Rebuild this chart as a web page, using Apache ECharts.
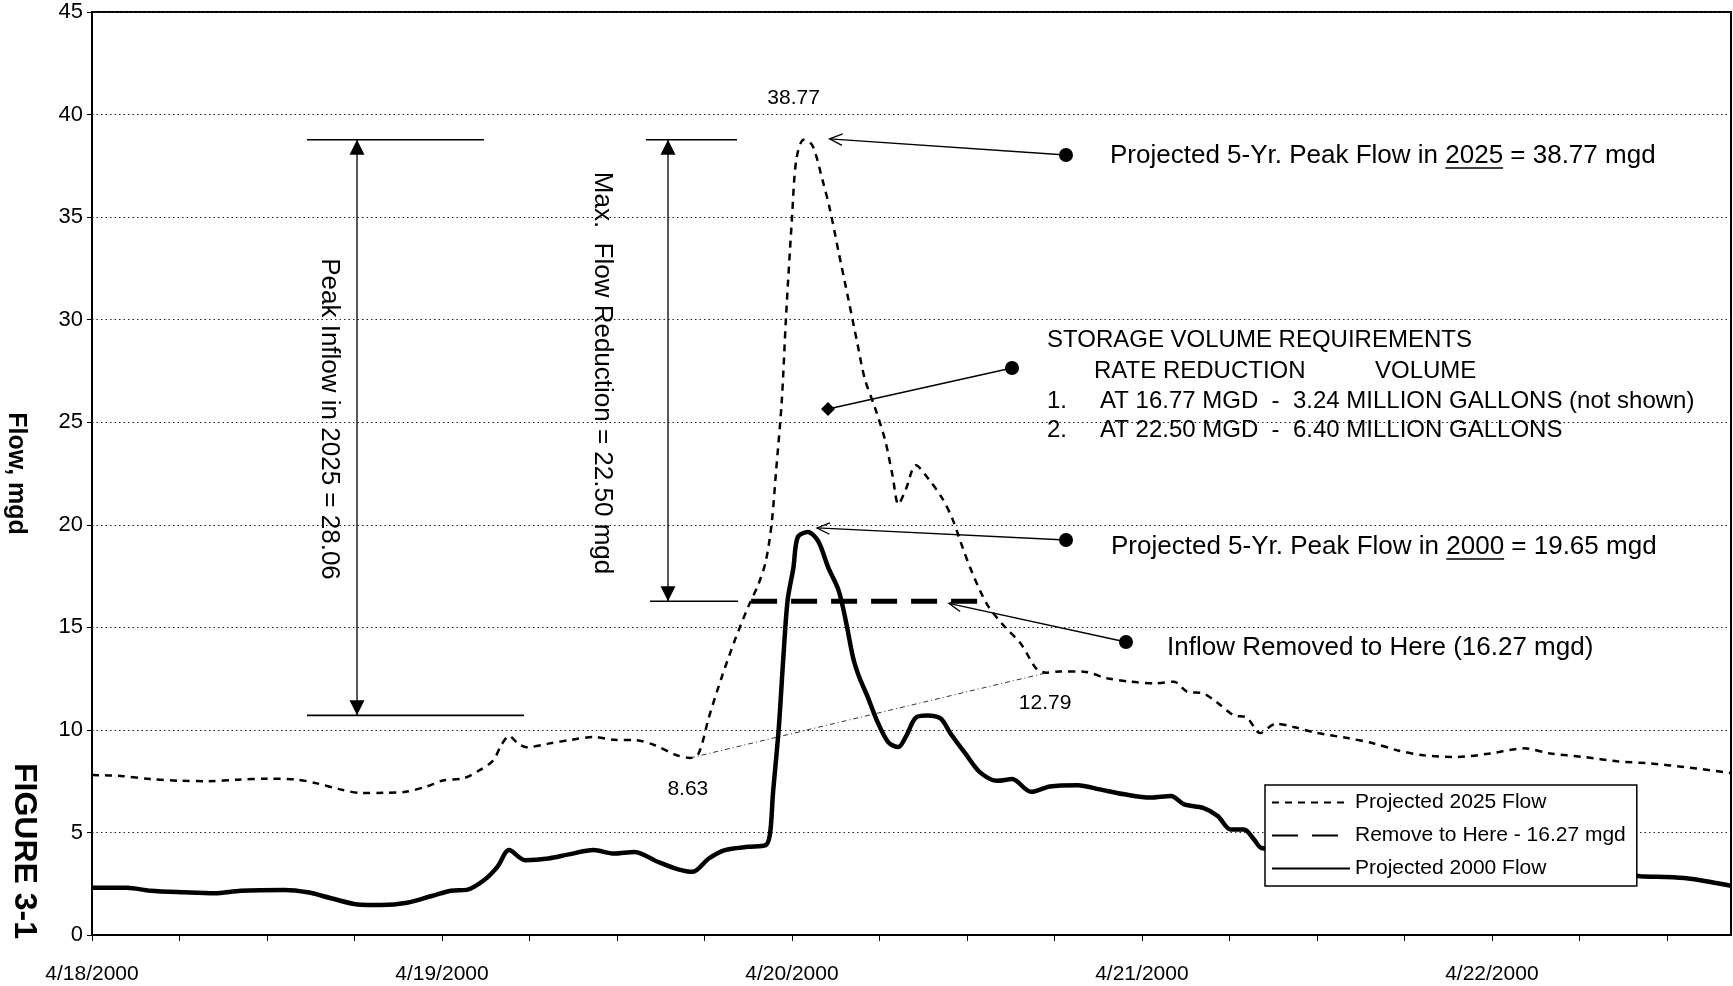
<!DOCTYPE html>
<html>
<head>
<meta charset="utf-8">
<title>Figure 3-1 Flow Hydrographs</title>
<script src="https://cdn.jsdelivr.net/npm/echarts@6/dist/echarts.min.js"></script>
<style>
  html, body { margin: 0; padding: 0; background: #fff; }
  #chart { width: 1733px; height: 986px; }
</style>
</head>
<body>
<div id="chart"></div>
<script>
// ---- Data: hours counted from 4/18/2000 00:00, flows in mgd ----
const hours2025 = [0,2,4,6,8,10,12,14,15.5,17,18.5,20,21.5,23,24,25.5,26.5,27.5,28.1,28.6,29.2,29.8,31.3,32.9,34.4,35.8,37.3,38.6,40,41,41.6,42.3,43.2,44.1,45,45.7,46.2,46.6,46.9,47.3,47.6,48,48.3,48.8,49.4,50.1,50.6,51.2,51.9,52.5,53,53.7,54.4,54.9,55.3,55.8,56.5,57.4,58.3,59,59.7,60.4,61.4,62.5,63.7,64.8,65.5,66.4,68,69.6,71.2,73,74.2,75.1,76.2,77.1,78.3,79.2,80.1,81.2,82.4,84,86.1,87.9,89.5,91.3,93.6,95.9,98.2,100,102.3,104.6,106.9,109.2,112.4];
const flow2025 = [7.8,7.75,7.6,7.52,7.5,7.57,7.62,7.58,7.38,7.1,6.92,6.93,6.98,7.25,7.52,7.65,8.0,8.5,9.3,9.7,9.35,9.15,9.33,9.52,9.65,9.52,9.5,9.25,8.79,8.63,8.85,10.6,12.6,14.4,16.0,17.1,18.2,20.0,22.5,26.0,30.2,34.9,37.8,38.77,38.5,36.8,35.4,33.3,30.9,28.8,27.1,25.7,24.1,22.4,21.0,21.7,22.9,22.2,21.3,20.3,18.9,17.6,16.1,15.1,14.2,12.95,12.79,12.85,12.84,12.52,12.35,12.27,12.35,11.86,11.78,11.37,10.71,10.6,9.85,10.3,10.14,9.85,9.6,9.34,9.01,8.76,8.68,8.85,9.1,8.85,8.68,8.47,8.36,8.19,7.9];

const hours2000 = [0,2.4,4,6.3,8.4,10.2,13.2,14.8,16.4,18.2,19.8,21.6,23.3,24.6,25.7,26.9,27.8,28.6,29.7,31.3,32.7,34.4,35.8,37.2,38.8,40.2,41.2,42.3,43.4,45,46.2,46.5,46.7,47.1,47.4,47.7,48.1,48.4,49.1,49.8,50.5,51.2,51.7,52.2,52.6,53.2,53.8,54.6,55.3,55.8,56.5,57.3,58.2,58.9,59.9,60.9,62.1,63.1,64.4,65.7,67.6,69.1,70.8,72.6,74,74.9,76.2,77.2,78.1,79,79.7,80.2,84,90,96,102,106.2,109.2,112.4];
const flow2000 = [2.3,2.3,2.16,2.08,2.03,2.16,2.2,2.08,1.79,1.49,1.46,1.57,1.9,2.16,2.2,2.68,3.32,4.14,3.65,3.73,3.93,4.14,3.97,4.05,3.57,3.2,3.08,3.73,4.14,4.3,4.38,4.95,6.9,10.1,13.4,16.3,17.9,19.4,19.65,19.2,17.9,16.8,15.3,13.5,12.6,11.6,10.5,9.4,9.16,9.65,10.6,10.7,10.55,9.8,8.84,7.93,7.52,7.6,6.98,7.24,7.3,7.1,6.86,6.7,6.78,6.37,6.2,5.8,5.14,5.14,4.65,4.24,4.0,3.6,3.3,3.05,2.87,2.78,2.4];

// Inflow removal level and the hours where the 2025 curve crosses it
const removeLevel = 16.27;
const removeHours = [45.2, 61.3];

// Labelled points on the 2025 curve
const lowFlow2025 = 8.63;
const recessionFlow2025 = 12.79;

// Summary figures
const peakInflow2025 = 28.06;
const maxFlowReduction = 22.50;

// X axis labels (one per day) and axis extent in hours
const dayLabels = ['4/18/2000', '4/19/2000', '4/20/2000', '4/21/2000', '4/22/2000'];
const xMaxHours = 112.4;

// ---- Chart ----
const FONT = '"Liberation Sans", Arial, Helvetica, sans-serif';
const INK = '#000';

const pairs = (xs, ys) => xs.map((x, i) => [x, ys[i]]);
const data2025 = pairs(hours2025, flow2025);
const data2000 = pairs(hours2000, flow2000);
const removeData = removeHours.map(h => [h, removeLevel]);
const hourOf = (xs, ys, v) => xs[ys.indexOf(v)];
const peak2025 = Math.max(...flow2025);
const peak2000 = Math.max(...flow2000);
const peak2025Hour = hourOf(hours2025, flow2025, peak2025);
const peak2000Hour = hourOf(hours2000, flow2000, peak2000);
const lowHour = hourOf(hours2025, flow2025, lowFlow2025);
const recessionHour = hourOf(hours2025, flow2025, recessionFlow2025);

const tickHours = [];
for (let h = 0; h <= xMaxHours; h += 6) tickHours.push(h);
const labelHours = dayLabels.map((_, i) => i * 24);

const chart = echarts.init(document.getElementById('chart'), null, { renderer: 'canvas' });

chart.setOption({
  animation: false,
  backgroundColor: '#fff',
  textStyle: { fontFamily: FONT, color: INK },
  grid: {
    left: 92, right: 2, top: 12, bottom: 51,
    outerBoundsMode: 'none', containLabel: false,
    show: true, borderColor: INK, borderWidth: 2, backgroundColor: 'transparent'
  },
  xAxis: {
    type: 'value', min: 0, max: xMaxHours, interval: 6,
    axisLine: { show: true, onZero: false, lineStyle: { color: INK, width: 2 } },
    axisTick: { show: true, customValues: tickHours, length: 6, lineStyle: { color: INK, width: 1 } },
    axisLabel: {
      customValues: labelHours,
      formatter: v => dayLabels[Math.round(v / 24)],
      fontSize: 21, color: INK, margin: 29, fontFamily: FONT
    },
    splitLine: { show: false }
  },
  yAxis: {
    type: 'value', min: 0, max: 45, interval: 5,
    name: 'Flow, mgd', nameLocation: 'middle', nameRotate: -90, nameGap: 64,
    nameTextStyle: { fontSize: 25, fontWeight: 'bold', color: INK, fontFamily: FONT },
    axisLine: { show: true, lineStyle: { color: INK, width: 1.5 } },
    axisTick: { show: true, length: 5, lineStyle: { color: INK, width: 1 } },
    axisLabel: { fontSize: 22, color: INK, margin: 9, fontFamily: FONT },
    splitLine: { show: true, lineStyle: { color: '#222', width: 1, type: [1.5, 3] } }
  },
  legend: {
    data: ['Projected 2025 Flow', 'Remove to Here - 16.27 mgd', 'Projected 2000 Flow'],
    orient: 'vertical', left: 1265, top: 785,
    padding: [7, 11, 7, 6], itemGap: 12, itemWidth: 78, itemHeight: 14,
    backgroundColor: '#fff', borderColor: INK, borderWidth: 1.5, borderRadius: 0,
    itemStyle: { opacity: 0 },
    textStyle: { fontSize: 21, color: INK, fontFamily: FONT },
    selectedMode: false
  },
  series: [
    {
      name: 'Projected 2025 Flow', type: 'line', data: data2025,
      symbol: 'none', smooth: 0.3, z: 3,
      itemStyle: { color: INK },
      lineStyle: { color: INK, width: 2.5, type: [7, 6] }
    },
    {
      name: 'Remove to Here - 16.27 mgd', type: 'line', data: removeData,
      symbol: 'none', z: 4,
      itemStyle: { color: INK },
      lineStyle: { color: INK, width: 5, type: [26, 14] }
    },
    {
      name: 'Projected 2000 Flow', type: 'line', data: data2000,
      symbol: 'none', smooth: 0.3, z: 3,
      itemStyle: { color: INK },
      lineStyle: { color: INK, width: 4.5 }
    },
    {
      name: 'low-to-recession', type: 'line',
      data: [[lowHour, lowFlow2025], [recessionHour, recessionFlow2025]],
      symbol: 'none', z: 2, silent: true,
      itemStyle: { color: '#333' },
      lineStyle: { color: '#333', width: 1, type: [5, 3, 1, 3] }
    }
  ]
});

// ---- Annotations ----
const px = (h, v) => chart.convertToPixel({ gridIndex: 0 }, [h, v]);
const measure = document.createElement('canvas').getContext('2d');
function textWidth(str, size, weight) {
  measure.font = (weight || 'normal') + ' ' + size + 'px ' + FONT;
  return measure.measureText(str).width;
}
const thin = { stroke: INK, lineWidth: 1.3, fill: null };

function line(x1, y1, x2, y2, w) {
  return { type: 'line', shape: { x1, y1, x2, y2 }, style: { stroke: INK, lineWidth: w || 1.3 }, z: 10 };
}
function text(str, x, y, size, opts) {
  opts = opts || {};
  return {
    type: 'text', x, y, rotation: opts.rotation || 0, z: 10,
    style: {
      text: str, fill: INK, fontSize: size, fontFamily: FONT,
      fontWeight: opts.weight || 'normal',
      align: opts.align || 'left', verticalAlign: 'middle'
    }
  };
}
function dot(x, y) {
  return { type: 'circle', shape: { cx: x, cy: y, r: 7 }, style: { fill: INK }, z: 10 };
}
function openArrow(tip, tail) {
  const a = Math.atan2(tail[1] - tip[1], tail[0] - tip[0]);
  const len = 14, spread = 0.42;
  return [
    line(tail[0], tail[1], tip[0], tip[1]),
    {
      type: 'polyline', z: 10,
      shape: { points: [
        [tip[0] + len * Math.cos(a + spread), tip[1] + len * Math.sin(a + spread)],
        tip,
        [tip[0] + len * Math.cos(a - spread), tip[1] + len * Math.sin(a - spread)]
      ] },
      style: thin
    }
  ];
}
function dimension(x, vTop, vBottom, capTop, capBottom) {
  const yTop = px(0, vTop)[1];
  const yBot = px(0, vBottom)[1];
  const hw = 7.5, ah = 15;
  return [
    line(x, yTop, x, yBot),
    line(capTop[0], yTop, capTop[1], yTop, 1.6),
    line(capBottom[0], yBot, capBottom[1], yBot, 1.6),
    { type: 'polygon', z: 10, shape: { points: [[x, yTop], [x - hw, yTop + ah], [x + hw, yTop + ah]] }, style: { fill: INK } },
    { type: 'polygon', z: 10, shape: { points: [[x, yBot], [x - hw, yBot - ah], [x + hw, yBot - ah]] }, style: { fill: INK } }
  ];
}
function underlinedPart(prefix, part, rest, x, y, size) {
  const x0 = x + textWidth(prefix, size);
  const x1 = x0 + textWidth(part, size);
  return [text(prefix + part + rest, x, y, size), line(x0, y + 12, x1, y + 12, 1.4)];
}

const pPeak2025 = px(peak2025Hour, peak2025);
const pPeak2000 = px(peak2000Hour, peak2000);
const pRemoveEnd = px(removeHours[1], removeLevel);
const pLow = px(lowHour, lowFlow2025);
const pRecession = px(recessionHour, recessionFlow2025);

const g = [];
// Dimension arrows
g.push(...dimension(357, peak2025, peak2025 - peakInflow2025, [307, 484], [307, 524]));
g.push(...dimension(668, peak2025, peak2025 - maxFlowReduction, [646, 737], [650, 738]));
g.push(text('Peak Inflow in 2025 = ' + peakInflow2025.toFixed(2), 329, 419, 26, { rotation: -Math.PI / 2, align: 'center' }));
g.push(text('Max.  Flow Reduction = ' + maxFlowReduction.toFixed(2) + ' mgd', 602, 373, 26, { rotation: -Math.PI / 2, align: 'center' }));

// Value labels on the 2025 curve
g.push(text(peak2025.toFixed(2), pPeak2025[0] - 10, pPeak2025[1] - 42, 21, { align: 'center' }));
g.push(text(lowFlow2025.toFixed(2), pLow[0] - 2, pLow[1] + 31, 21, { align: 'center' }));
g.push(text(recessionFlow2025.toFixed(2), pRecession[0] - 2, pRecession[1] + 31, 21, { align: 'center' }));

// Callouts
const d1 = [1066, 155], d2 = [1012, 368], d3 = [1066, 540], d4 = [1126, 642];
g.push(...openArrow([pPeak2025[0] + 26, pPeak2025[1] - 1], d1), dot(d1[0], d1[1]));
g.push(...underlinedPart('Projected 5-Yr. Peak Flow in ', '2025', ' = ' + peak2025.toFixed(2) + ' mgd', 1110, 156, 26));

const dia = [828, 409];
g.push(line(d2[0], d2[1], dia[0], dia[1]), dot(d2[0], d2[1]));
g.push({ type: 'polygon', z: 10, shape: { points: [[dia[0], dia[1] - 7], [dia[0] + 7, dia[1]], [dia[0], dia[1] + 7], [dia[0] - 7, dia[1]]] }, style: { fill: INK } });

g.push(...openArrow([pPeak2000[0] + 9, pPeak2000[1] - 4], d3), dot(d3[0], d3[1]));
g.push(...underlinedPart('Projected 5-Yr. Peak Flow in ', '2000', ' = ' + peak2000.toFixed(2) + ' mgd', 1111, 547, 26));

g.push(...openArrow([pRemoveEnd[0] - 37, pRemoveEnd[1] + 2], d4), dot(d4[0], d4[1]));
g.push(text('Inflow Removed to Here (' + removeLevel.toFixed(2) + ' mgd)', 1167, 648, 26));

// Storage volume table
g.push(text('STORAGE VOLUME REQUIREMENTS', 1047, 340, 24));
g.push(text('RATE REDUCTION', 1094, 371, 24));
g.push(text('VOLUME', 1375, 371, 24));
g.push(text('1.', 1047, 401, 24));
g.push(text('AT 16.77 MGD  -  3.24 MILLION GALLONS (not shown)', 1100, 401, 24));
g.push(text('2.', 1047, 430, 24));
g.push(text('AT 22.50 MGD  -  6.40 MILLION GALLONS', 1100, 430, 24));

// Figure number
g.push(text('FIGURE 3-1', 24, 851, 32, { rotation: -Math.PI / 2, align: 'center', weight: 'bold' }));

chart.setOption({ graphic: g });
</script>
</body>
</html>
